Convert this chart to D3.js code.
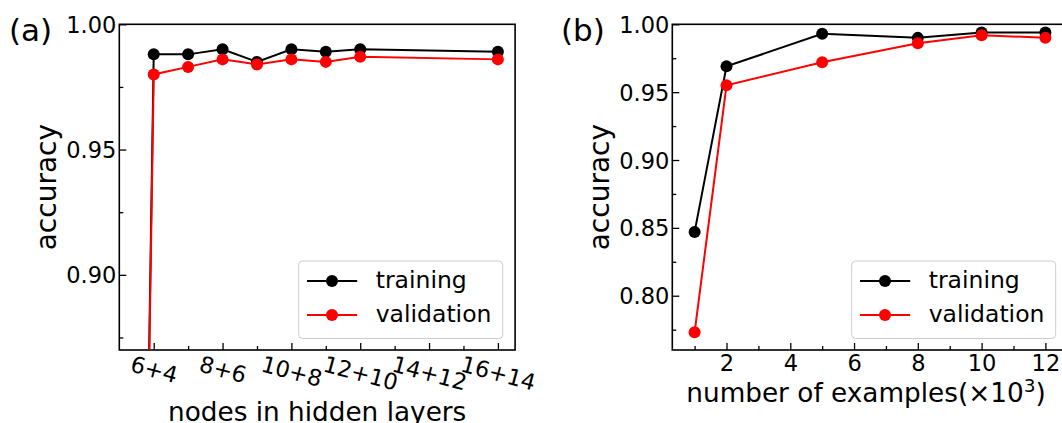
<!DOCTYPE html>
<html>
<head>
<meta charset="utf-8">
<script src="https://cdn.jsdelivr.net/npm/d3@7"></script>
<style>
  body { margin: 0; background: #fff; }
  svg { display: block; }
  svg text { font-family: "DejaVu Sans", sans-serif; }
</style>
</head>
<body>
<svg id="chart" width="1062" height="423"></svg>
<script>
// (a) accuracy vs hidden layer sizes
const nodesX = [5, 6, 7, 8, 9, 10, 11, 12, 16];
const nodesTrain = [0.10, 0.988, 0.988, 0.990, 0.985, 0.990, 0.989, 0.990, 0.989];
const nodesValid = [0.10, 0.980, 0.983, 0.986, 0.984, 0.986, 0.985, 0.987, 0.986];
const nodesTicks = [6, 8, 10, 12, 14, 16];
const nodesTickLabels = ['6+4', '8+6', '10+8', '12+10', '14+12', '16+14'];

// (b) accuracy vs number of examples (x10^3)
const examplesX = [1, 2, 5, 8, 10, 12];
const examplesTrain = [0.847, 0.969, 0.993, 0.990, 0.994, 0.994];
const examplesValid = [0.773, 0.955, 0.972, 0.986, 0.992, 0.990];

const seriesNames = ['training', 'validation'];
const seriesColors = ['#000000', '#ff0000'];

const svg = d3.select('#chart');
const tickFont = 22.5;
const labelFont = 26.3;

const drawPanel = (opt) => {
  const {left, right, top, bottom, xDomain, yDomain, id} = opt;
  const x = d3.scaleLinear().domain(xDomain).range([left, right]);
  const y = d3.scaleLinear().domain(yDomain).range([bottom, top]);
  const g = svg.append('g');

  g.append('clipPath').attr('id', id)
    .append('rect')
    .attr('x', left).attr('y', top)
    .attr('width', right - left).attr('height', bottom - top);

  // y axis, inward ticks
  const yMajor = g.append('g')
    .attr('transform', `translate(${left},0)`)
    .call(d3.axisLeft(y).tickValues(opt.yTicks).tickFormat(d3.format('.2f'))
      .tickSizeInner(-7).tickSizeOuter(0).tickPadding(3));
  yMajor.selectAll('text')
    .attr('font-size', tickFont).attr('fill', '#000')
    .attr('dy', null).attr('dominant-baseline', 'central');
  g.append('g')
    .attr('transform', `translate(${left},0)`)
    .call(d3.axisLeft(y).tickValues(opt.yMinor).tickFormat('')
      .tickSizeInner(-4).tickSizeOuter(0));

  // x axis
  const xMajor = g.append('g')
    .attr('transform', `translate(0,${bottom})`)
    .call(d3.axisBottom(x).tickValues(opt.xTicks)
      .tickFormat((d, i) => opt.xTickLabels ? opt.xTickLabels[i] : d)
      .tickSizeInner(-7).tickSizeOuter(0).tickPadding(4));
  xMajor.selectAll('text').attr('font-size', tickFont).attr('fill', '#000');
  if (opt.rotate) {
    const a = opt.rotate * Math.PI / 180;
    xMajor.selectAll('text')
      .attr('y', null).attr('dy', null)
      .attr('text-anchor', 'middle')
      .attr('dominant-baseline', 'central')
      .attr('transform', function () {
        const w = this.getComputedTextLength();
        const hb = w * Math.sin(a) + 0.8 * tickFont * Math.cos(a);
        return `translate(0,${4.5 + hb / 2}) rotate(${opt.rotate})`;
      });
  } else {
    xMajor.selectAll('text').attr('y', null).attr('dy', null)
      .attr('transform', 'translate(0,21)');
  }
  g.append('g')
    .attr('transform', `translate(0,${bottom})`)
    .call(d3.axisBottom(x).tickValues(opt.xMinor).tickFormat('')
      .tickSizeInner(-4).tickSizeOuter(0));

  g.selectAll('.domain').remove();
  g.selectAll('.tick line').attr('stroke', '#000').attr('stroke-width', 1.3);

  // frame
  g.append('rect')
    .attr('x', left).attr('y', top)
    .attr('width', right - left).attr('height', bottom - top)
    .attr('fill', 'none').attr('stroke', '#000').attr('stroke-width', 1.6);

  // series
  const plot = g.append('g').attr('clip-path', `url(#${id})`);
  opt.series.forEach((vals, k) => {
    const pts = opt.xs.map((d, i) => [d, vals[i]]);
    plot.append('path')
      .datum(pts)
      .attr('fill', 'none')
      .attr('stroke', seriesColors[k])
      .attr('stroke-width', 2)
      .attr('d', d3.line().x(d => x(d[0])).y(d => y(d[1])));
    plot.selectAll(null)
      .data(pts)
      .enter()
      .append('circle')
      .attr('cx', d => x(d[0]))
      .attr('cy', d => y(d[1]))
      .attr('r', 6)
      .attr('fill', seriesColors[k]);
  });

  // legend
  const lx = opt.legendX, ly = 261;
  const leg = g.append('g').attr('transform', `translate(${lx},${ly})`);
  leg.append('rect')
    .attr('width', 204).attr('height', 77.5).attr('rx', 4)
    .attr('fill', '#fff').attr('fill-opacity', 0.8)
    .attr('stroke', '#cccccc').attr('stroke-width', 1);
  seriesNames.forEach((name, k) => {
    const cy = 20 + 34 * k;
    leg.append('line')
      .attr('x1', 8.3).attr('x2', 58.5).attr('y1', cy).attr('y2', cy)
      .attr('stroke', seriesColors[k]).attr('stroke-width', 2);
    leg.append('circle')
      .attr('cx', 33.3).attr('cy', cy).attr('r', 6)
      .attr('fill', seriesColors[k]);
    leg.append('text')
      .attr('x', 77).attr('y', cy + 7)
      .attr('font-size', 23.5)
      .text(name);
  });

  // axis labels
  g.append('text')
    .attr('transform', `translate(${left - 63},${(top + bottom) / 2}) rotate(-90)`)
    .attr('text-anchor', 'middle')
    .attr('font-size', 28)
    .text('accuracy');
  const xl = g.append('text')
    .attr('x', opt.xLabelX).attr('y', opt.xLabelY)
    .attr('text-anchor', 'middle')
    .attr('font-size', labelFont);
  xl.append('tspan').text(opt.xLabel);
  if (opt.xLabelSup) {
    xl.append('tspan').attr('dy', -10).attr('font-size', 18.5).text(opt.xLabelSup);
    xl.append('tspan').attr('dy', 10).text(')');
  }

  g.append('text')
    .attr('x', opt.panelX).attr('y', 41)
    .attr('font-size', 31)
    .text(opt.panel);
};

drawPanel({
  id: 'clipA', panel: '(a)', panelX: 9,
  left: 119.3, right: 515.1, top: 24.3, bottom: 350,
  xDomain: [5, 16.5], yDomain: [0.87, 1.0],
  yTicks: [0.90, 0.95, 1.00], yMinor: [0.875, 0.925, 0.975],
  xTicks: nodesTicks, xTickLabels: nodesTickLabels, xMinor: [7, 9, 11, 13, 15],
  rotate: 15,
  xs: nodesX, series: [nodesTrain, nodesValid],
  legendX: 298.7,
  xLabel: 'nodes in hidden layers', xLabelX: 317.2, xLabelY: 420.7
});

drawPanel({
  id: 'clipB', panel: '(b)', panelX: 561,
  left: 672.3, right: 1067.7, top: 24.3, bottom: 350,
  xDomain: [0.3, 12.7], yDomain: [0.76, 1.0],
  yTicks: [0.80, 0.85, 0.90, 0.95, 1.00],
  yMinor: [0.775, 0.825, 0.875, 0.925, 0.975],
  xTicks: [2, 4, 6, 8, 10, 12], xMinor: [1, 3, 5, 7, 9, 11],
  xs: examplesX, series: [examplesTrain, examplesValid],
  legendX: 851.7,
  xLabel: 'number of examples(×10', xLabelSup: '3', xLabelX: 866, xLabelY: 401.7
});
</script>
</body>
</html>
